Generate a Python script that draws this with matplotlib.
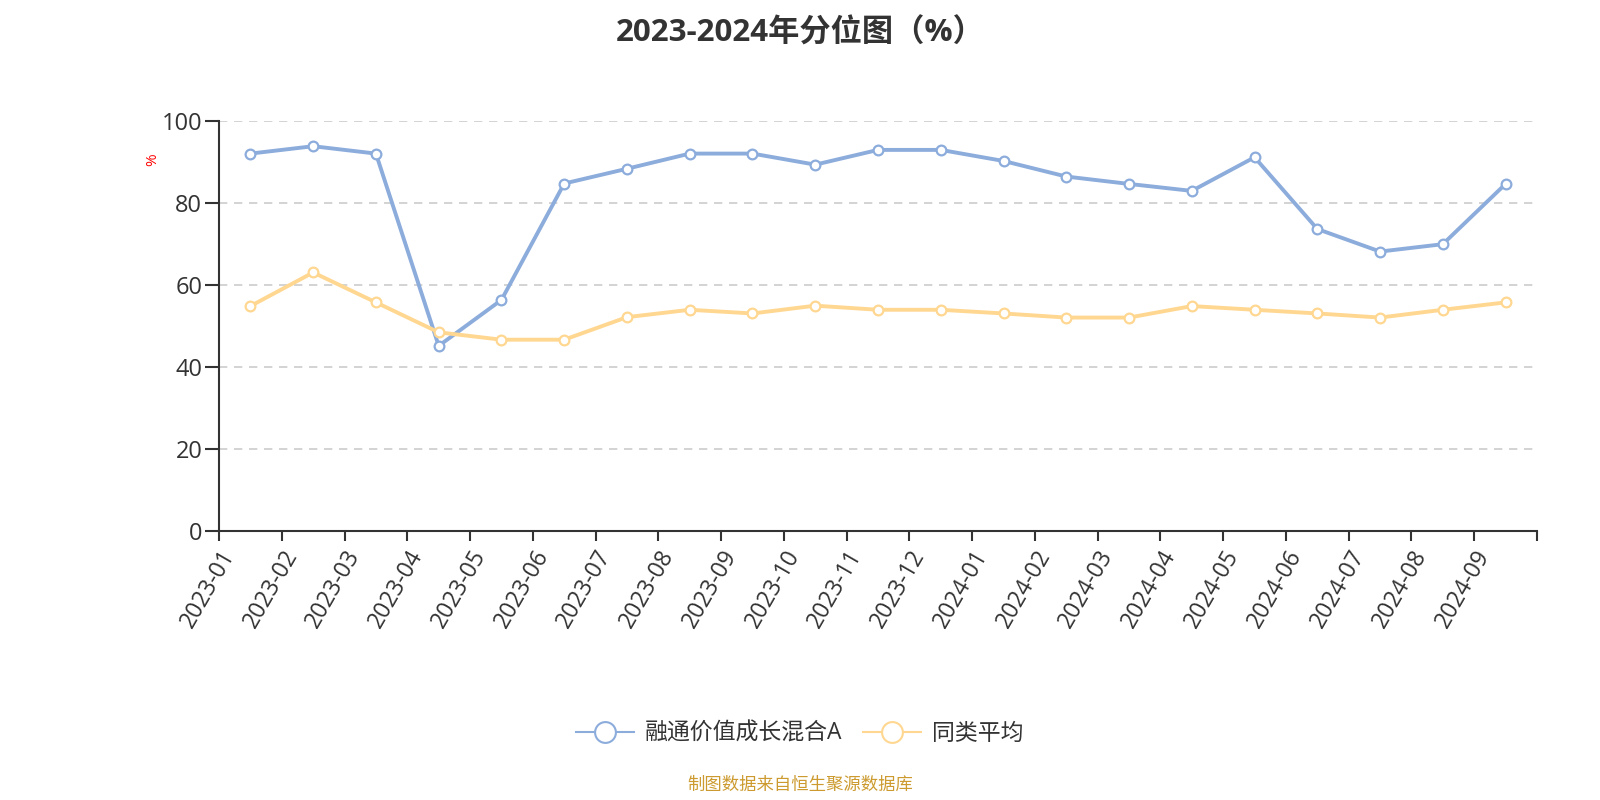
import matplotlib
matplotlib.use('Agg')
import matplotlib.pyplot as plt
from matplotlib.lines import Line2D
import numpy as np

plt.rcParams['font.family'] = ['Open Sans', 'Noto Sans CJK SC', 'DejaVu Sans']

months = ['2023-01', '2023-02', '2023-03', '2023-04', '2023-05', '2023-06', '2023-07',
          '2023-08', '2023-09', '2023-10', '2023-11', '2023-12', '2024-01', '2024-02',
          '2024-03', '2024-04', '2024-05', '2024-06', '2024-07', '2024-08', '2024-09']
fund = [92.0, 93.8, 92.0, 45.1, 56.3, 84.7, 88.3, 92.0, 92.0, 89.3, 92.9, 92.9,
        90.2, 86.4, 84.6, 82.9, 91.1, 73.6, 68.1, 69.9, 84.6]
peer = [54.8, 63.0, 55.7, 48.4, 46.6, 46.6, 52.1, 53.9, 53.0, 54.9, 53.9, 53.9,
        53.0, 52.0, 52.0, 54.8, 53.9, 53.0, 52.0, 53.9, 55.7]
names = ['融通价值成长混合A', '同类平均']

blue = '#8cacdc'
orange = '#ffd791'

fig = plt.figure(figsize=(16, 8), dpi=100)
ax = fig.add_axes([0.1369, 0.3366, 0.9606 - 0.1369, 0.849 - 0.3366])

x = np.arange(len(months))
for vals, c in [(fund, blue), (peer, orange)]:
    ax.plot(x, vals, color=c, lw=2.8, marker='o', ms=7, mfc='white',
            mec=c, mew=1.6, zorder=3)

ax.set_xlim(-0.5, len(months) - 0.5)
ax.set_ylim(0, 100)
ax.set_yticks([0, 20, 40, 60, 80, 100])
ax.yaxis.grid(True, ls=(0, (5, 4)), color='#cccccc', lw=1.2)
ax.set_axisbelow(True)

# ticks on band edges, labels hang from each edge
edges = np.arange(len(months) + 1) - 0.5
ax.set_xticks(edges)
ax.set_xticklabels(months + [''], rotation=60, ha='right', rotation_mode='anchor',
                   fontsize=16.5, color='#333333')
ax.tick_params(axis='x', length=7, width=1.5, color='#333333', pad=4)
ax.tick_params(axis='y', length=10, width=1.5, color='#333333', labelsize=17,
               labelcolor='#333333', pad=2)

for s in ['top', 'right']:
    ax.spines[s].set_visible(False)
for s in ['left', 'bottom']:
    ax.spines[s].set_color('#333333')
    ax.spines[s].set_linewidth(1.5)

fig.text(0.0956, 0.80, '%', color='red', fontsize=11, rotation=90,
         ha='center', va='center')

fig.suptitle('2023-2024年分位图（%）', y=0.977, fontsize=22.5, fontweight='bold',
             color='#333333')

handles = [Line2D([], [], color=blue, lw=1.5, marker='o', ms=15, mfc='white', mec=blue, mew=1.5),
           Line2D([], [], color=orange, lw=1.5, marker='o', ms=15, mfc='white', mec=orange, mew=1.5)]
fig.legend(handles, names, loc='center', bbox_to_anchor=(0.5, 0.0825), ncol=2,
           frameon=False, fontsize=16.5, handlelength=2.5, columnspacing=0.9,
           handletextpad=0.5, labelcolor='#333333')

fig.text(0.5, 0.008, '制图数据来自恒生聚源数据库', color='#cc9a2e', fontsize=12.5,
         ha='center', va='bottom')

fig.savefig('out.png', dpi=100)
